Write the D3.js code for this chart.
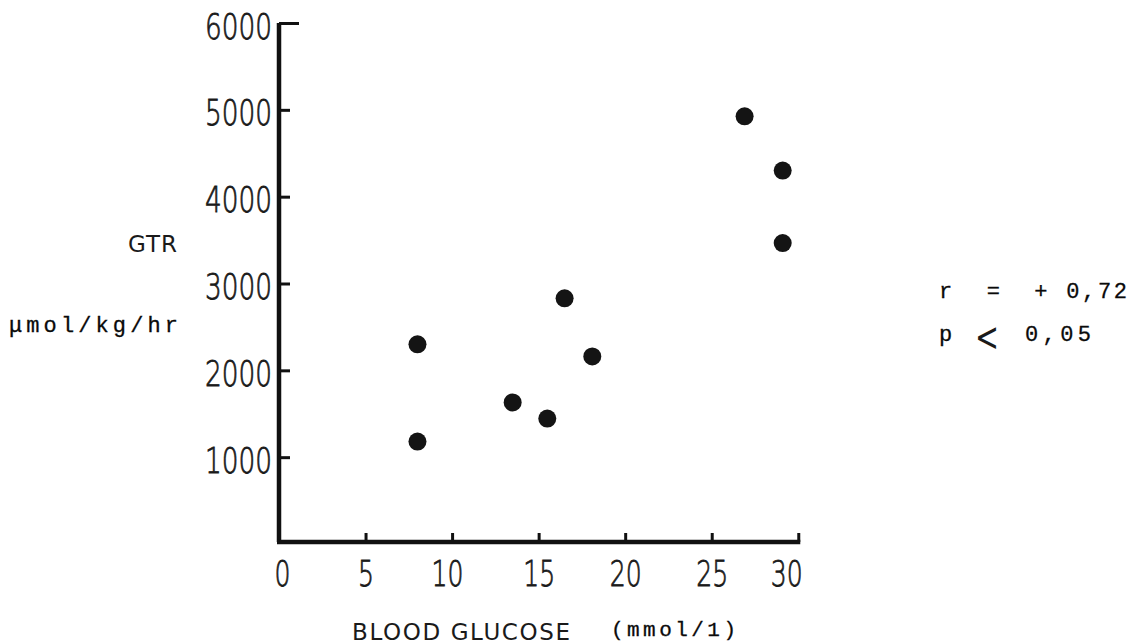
<!DOCTYPE html>
<html>
<head>
<meta charset="utf-8">
<script src="https://cdn.jsdelivr.net/npm/d3@7"></script>
<style>
  body { margin: 0; background: #fff; }
  svg { display: block; }
  .tick text { font-family: "DejaVu Sans", "Liberation Sans", sans-serif; font-weight: 200; fill: #1a1a1a; stroke: #1a1a1a; stroke-width: 0.8px; }
  .mono { font-family: "Liberation Mono", "DejaVu Sans Mono", monospace; fill: #0a0a0a; stroke: #0a0a0a; stroke-width: 0.3px; white-space: pre; }
  .sans { font-family: "DejaVu Sans", "Liberation Sans", sans-serif; fill: #1a1a1a; }
</style>
</head>
<body>
<svg id="chart" width="1135" height="644"></svg>
<script>
// blood glucose (mmol/l) vs GTR (umol/kg/hr)
var glucose = [8, 8, 13.5, 15.5, 16.5, 18.1, 26.9, 29.1, 29.1];
var gtr     = [2300, 1180, 1630, 1445, 2830, 2160, 4925, 4300, 3465];

var xTicks = [0, 5, 10, 15, 20, 25, 30];
var yTicks = [1000, 2000, 3000, 4000, 5000, 6000];

var screen = {width:1135, height:644}
var margins = {left:279, right:335, top:23, bottom:102}

var graph = {
    width: screen.width - margins.left - margins.right,
    height: screen.height - margins.top - margins.bottom
}

var xScale = d3.scaleLinear()
    .domain([0, 30])
    .range([0, graph.width * 30 / 30.1])

var yScale = d3.scaleLinear()
    .domain([0, 6000])
    .range([graph.height + 2, 0])

var svg = d3.select("#chart")

var plot = svg.append("g")
    .attr("transform", "translate(" + margins.left + "," + margins.top + ")")

// y axis, ticks pointing inward
var yAxis = d3.axisLeft(yScale)
    .tickValues(yTicks)
    .tickSize(-11)
    .tickPadding(7)
    .tickFormat(d3.format("d"))

var gy = plot.append("g").call(yAxis)
gy.select(".domain").remove()
gy.selectAll(".tick line").attr("stroke", "#111").attr("stroke-width", 3)
gy.selectAll(".tick text")
    .attr("font-size", 36)
    .attr("dy", "0.42em")
    .attr("textLength", 67)
    .attr("lengthAdjust", "spacingAndGlyphs")
gy.selectAll(".tick").filter(function(d){ return d == 6000; })
    .select("line").attr("x2", 20)

// x axis, ticks pointing up
var xAxis = d3.axisBottom(xScale)
    .tickValues(xTicks)
    .tickSize(-9)
    .tickPadding(18)

var gx = plot.append("g")
    .attr("transform", "translate(0," + graph.height + ")")
    .call(xAxis)
gx.select(".domain").remove()
gx.selectAll(".tick line").attr("stroke", "#111").attr("stroke-width", 3)
    .filter(function(d){ return d == 0; }).remove()
gx.selectAll(".tick text")
    .attr("font-size", 36)
    .attr("dy", "0.71em")
    .attr("textLength", function(d){ return String(d).length * 16; })
    .attr("lengthAdjust", "spacingAndGlyphs")
    .attr("dx", function(d){ return d == 30 ? -12 : (d == 10 ? -5 : (d == 0 ? 3 : 0)); })

// the heavy axis lines
plot.append("line")
    .attr("x1", 0).attr("x2", 0)
    .attr("y1", yScale(6000)).attr("y2", graph.height)
    .attr("stroke", "#111").attr("stroke-width", 4.5)
plot.append("line")
    .attr("x1", -2).attr("x2", xScale(30) + 2)
    .attr("y1", graph.height).attr("y2", graph.height)
    .attr("stroke", "#111").attr("stroke-width", 4.5)

// points
plot.selectAll("circle.pt")
    .data(glucose)
    .enter()
    .append("circle")
    .attr("class", "pt")
    .attr("cx", function(d){ return xScale(d); })
    .attr("cy", function(d, i){ return yScale(gtr[i]); })
    .attr("r", 9)
    .attr("fill", "#141414")

// labels
svg.append("text").attr("class", "sans")
    .attr("x", 128).attr("y", 252)
    .attr("font-size", 23)
    .attr("textLength", 49)
    .text("GTR")

svg.append("text").attr("class", "mono")
    .attr("x", 9).attr("y", 332)
    .attr("font-size", 22)
    .attr("textLength", 169)
    .text("\u03bcmol/kg/hr")

svg.append("text").attr("class", "mono")
    .attr("x", 939).attr("y", 298)
    .attr("font-size", 22)
    .attr("textLength", 188)
    .text("r  =  + 0,72")

svg.append("text").attr("class", "mono")
    .attr("x", 939).attr("y", 341)
    .attr("font-size", 22)
    .text("p")

svg.append("text").attr("class", "sans")
    .attr("x", 975).attr("y", 351)
    .attr("font-size", 40)
    .attr("textLength", 24)
    .attr("lengthAdjust", "spacingAndGlyphs")
    .text("<")

svg.append("text").attr("class", "mono")
    .attr("x", 1025).attr("y", 341)
    .attr("font-size", 22)
    .attr("textLength", 66)
    .text("0,05")

svg.append("text").attr("class", "sans")
    .attr("x", 352).attr("y", 640)
    .attr("font-size", 23)
    .attr("textLength", 218)
    .text("BLOOD GLUCOSE")

svg.append("text").attr("class", "mono")
    .attr("x", 611).attr("y", 636)
    .attr("font-size", 21)
    .attr("textLength", 125)
    .text("(mmol/1)")
</script>
</body>
</html>
